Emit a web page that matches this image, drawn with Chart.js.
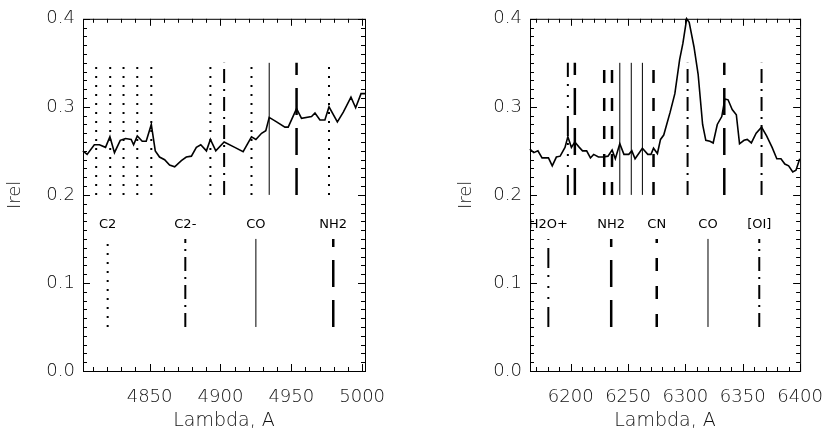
<!DOCTYPE html>
<html>
<head>
<meta charset="utf-8">
<script src="https://cdn.jsdelivr.net/npm/chart.js@4"></script>
<style>
  body { margin: 0; background: #fff; }
  #wrap { position: relative; width: 839px; height: 432px; }
  canvas { position: absolute; top: 0; }
</style>
</head>
<body>
<div id="wrap">
  <canvas id="leftChart" width="420" height="432" style="left:0"></canvas>
  <canvas id="rightChart" width="419" height="432" style="left:420px"></canvas>
</div>
<script>
// spectrum, left panel (4800-5000 A)
const leftWave = [4802.9, 4805.9, 4811, 4814.6, 4818.9, 4822, 4825.2, 4829.3, 4833, 4837, 4838.7, 4841.3, 4844.8, 4847.6, 4851.2, 4854, 4857, 4860.6, 4864.1, 4867.7, 4872.4, 4875.9, 4879.5, 4883, 4886.1, 4890.1, 4892.9, 4896.7, 4902.6, 4910.1, 4916, 4921.9, 4925, 4929, 4932, 4934.4, 4939.6, 4945.5, 4947.8, 4953.7, 4957.2, 4964.3, 4966.7, 4970.2, 4973.7, 4976.6, 4982.5, 4986.7, 4992.1, 4995.4, 4999.2, 5002];
const leftFlux = [0.250, 0.246, 0.257, 0.257, 0.254, 0.266, 0.248, 0.262, 0.264, 0.263, 0.257, 0.267, 0.261, 0.261, 0.280, 0.250, 0.243, 0.240, 0.234, 0.232, 0.239, 0.243, 0.244, 0.254, 0.257, 0.250, 0.263, 0.250, 0.260, 0.254, 0.249, 0.266, 0.263, 0.270, 0.273, 0.288, 0.283, 0.277, 0.277, 0.298, 0.287, 0.289, 0.293, 0.285, 0.285, 0.300, 0.283, 0.294, 0.311, 0.299, 0.315, 0.315];

// spectrum, right panel (6165-6400 A)
const rightWave = [6164.4, 6167.8, 6171.4, 6175, 6180.6, 6183.9, 6187.5, 6190.8, 6195, 6197.5, 6200.6, 6203.6, 6207.5, 6210.3, 6213.9, 6217.2, 6220, 6224.2, 6228.3, 6232.5, 6236.1, 6238.9, 6242.8, 6246.4, 6250.6, 6253.3, 6256.1, 6262.5, 6267.2, 6270, 6272.2, 6275.6, 6278.3, 6281.1, 6286.7, 6290.8, 6295, 6297.8, 6301.1, 6303.3, 6307.5, 6311.1, 6315, 6317.8, 6321.4, 6324.2, 6327.8, 6331.7, 6334.4, 6337.2, 6340.8, 6344.4, 6347.2, 6351.1, 6353.9, 6357.5, 6361.7, 6366.4, 6370.8, 6375.6, 6379.7, 6383.3, 6386.7, 6390, 6393.6, 6396.4, 6399.7];
const rightFlux = [0.252, 0.248, 0.250, 0.242, 0.242, 0.233, 0.243, 0.244, 0.254, 0.266, 0.254, 0.260, 0.254, 0.250, 0.250, 0.242, 0.246, 0.243, 0.243, 0.244, 0.251, 0.241, 0.258, 0.246, 0.246, 0.250, 0.241, 0.253, 0.246, 0.246, 0.253, 0.247, 0.263, 0.268, 0.294, 0.315, 0.354, 0.372, 0.400, 0.396, 0.368, 0.337, 0.280, 0.262, 0.261, 0.259, 0.280, 0.289, 0.309, 0.308, 0.297, 0.291, 0.258, 0.262, 0.263, 0.259, 0.270, 0.277, 0.267, 0.254, 0.241, 0.241, 0.235, 0.233, 0.226, 0.228, 0.241];

// identified lines drawn over the spectrum
const leftLineWave = [4812.3, 4822.2, 4831.6, 4841.3, 4851.2, 4892.9, 4902.6, 4921.9, 4934.4, 4953.7, 4976.6];
const leftLineSpecies = ['C2', 'C2', 'C2', 'C2', 'C2', 'C2', 'C2-', 'C2', 'CO', 'NH2', 'C2'];
const rightLineWave = [6197.5, 6203.6, 6229.2, 6236, 6242.8, 6252.8, 6262.5, 6272.2, 6301.9, 6333.9, 6366.4];
const rightLineSpecies = ['H2O+', 'NH2', 'CN', 'CN', 'CO', 'CO', 'CO', 'CN', '[OI]', 'NH2', '[OI]'];

// key of line styles in the lower part of each panel
const leftKeyNames = ['C2', 'C2-', 'CO', 'NH2'];
const leftKeyWave = [4820.4, 4875.2, 4925, 4979.6];
const rightKeyNames = ['H2O+', 'NH2', 'CN', 'CO', '[OI]'];
const rightKeyWave = [6180.5, 6235.3, 6275, 6319.7, 6364.4];

const leftTicks = [4850, 4900, 4950, 5000];
const rightTicks = [6200, 6250, 6300, 6350, 6400];
const yTicks = [0.0, 0.1, 0.2, 0.3, 0.4];

const lineSpan = [0.2, 0.35];
const keySpan = [0.05, 0.15];
const keyLabelLevel = 0.166;

const FONT = "'DejaVu Sans', sans-serif";
const TEXTO = '#111';

const estilos = {
    'C2':   { dash: [2, 7], width: 2 },
    'C2-':  { dash: [14, 6, 2, 6], width: 2 },
    'CO':   { dash: [], width: 1 },
    'NH2':  { dash: [27, 13], width: 2.5 },
    'CN':   { dash: [13, 15], width: 2.5 },
    'H2O+': { dash: [20, 8, 2, 9, 2, 9, 2, 7], width: 2 },
    '[OI]': { dash: [14, 6, 2, 6], width: 2 }
};

function lineaVertical(w, especie, span) {
    const st = estilos[especie];
    return {
        data: [{ x: w, y: span[0] }, { x: w, y: span[1] }],
        showLine: true,
        borderColor: '#000',
        borderWidth: st.width,
        borderDash: st.dash,
        pointRadius: 0
    };
}

// box and inward ticks on all four sides, plus key labels
const marcoPlugin = {
    id: 'marco',
    afterDatasetsDraw(chart, args, opts) {
        const { ctx, chartArea: a, scales: { x, y } } = chart;
        ctx.save();
        ctx.strokeStyle = '#000';
        ctx.lineWidth = 1;
        ctx.strokeRect(a.left + 0.5, a.top + 0.5, a.right - a.left, a.bottom - a.top);
        ctx.beginPath();
        for (let v = Math.ceil(x.min / 10) * 10; v <= x.max; v += 10) {
            const px = Math.round(x.getPixelForValue(v)) + 0.5;
            const len = v % 50 === 0 ? 7 : 4;
            ctx.moveTo(px, a.bottom); ctx.lineTo(px, a.bottom - len);
            ctx.moveTo(px, a.top); ctx.lineTo(px, a.top + len);
        }
        for (let i = 0; i <= 40; i++) {
            const py = Math.round(y.getPixelForValue(i / 100)) + 0.5;
            const len = i % 10 === 0 ? 7 : 4;
            ctx.moveTo(a.left, py); ctx.lineTo(a.left + len, py);
            ctx.moveTo(a.right, py); ctx.lineTo(a.right - len, py);
        }
        ctx.stroke();

        ctx.fillStyle = '#000';
        ctx.font = '13px ' + FONT;
        ctx.textAlign = 'center';
        ctx.textBaseline = 'middle';
        opts.names.forEach((n, i) => {
            ctx.fillText(n, x.getPixelForValue(opts.waves[i]), y.getPixelForValue(keyLabelLevel));
        });
        ctx.restore();
    }
};

function crearPanel(id, wave, flux, lineWave, lineSpecies, keyNames, keyWave, ticks, xmin, xmax, yWidth, padRight, titlePad) {
    const datasets = [{
        data: wave.map((w, i) => ({ x: w, y: flux[i] })),
        showLine: true,
        borderColor: '#000',
        borderWidth: 1.6,
        pointRadius: 0,
        clip: 3
    }];
    lineWave.forEach((w, i) => datasets.push(lineaVertical(w, lineSpecies[i], lineSpan)));
    keyWave.forEach((w, i) => datasets.push(lineaVertical(w, keyNames[i], keySpan)));

    return new Chart(document.getElementById(id), {
        type: 'scatter',
        data: { datasets },
        options: {
            responsive: false,
            animation: false,
            layout: { padding: { left: 0, right: padRight, top: 13, bottom: 0 } },
            plugins: {
                legend: { display: false },
                tooltip: { enabled: false },
                marco: { names: keyNames, waves: keyWave }
            },
            scales: {
                x: {
                    type: 'linear',
                    min: xmin,
                    max: xmax,
                    grid: { display: false, drawTicks: false },
                    border: { display: false },
                    afterBuildTicks: s => { s.ticks = ticks.map(v => ({ value: v })); },
                    afterFit: s => { s.height = 61; },
                    ticks: {
                        font: { family: FONT, size: 18, weight: 300 },
                        color: TEXTO,
                        padding: 16,
                        maxRotation: 0,
                        callback: v => String(v)
                    },
                    title: {
                        display: true,
                        text: 'Lambda, A',
                        font: { family: FONT, size: 19, weight: 300 },
                        color: TEXTO,
                        padding: { top: 0, bottom: 0 }
                    }
                },
                y: {
                    type: 'linear',
                    min: 0,
                    max: 0.4,
                    grid: { display: false, drawTicks: false },
                    border: { display: false },
                    afterBuildTicks: s => { s.ticks = yTicks.map(v => ({ value: v })); },
                    afterFit: s => { s.width = yWidth; },
                    ticks: {
                        font: { family: FONT, size: 18, weight: 300 },
                        color: TEXTO,
                        padding: 8,
                        callback: v => Number(v).toFixed(1)
                    },
                    title: {
                        display: true,
                        text: 'Irel',
                        font: { family: FONT, size: 18, weight: 300 },
                        color: TEXTO,
                        padding: { top: titlePad, bottom: 0 }
                    }
                }
            }
        },
        plugins: [marcoPlugin]
    });
}

crearPanel('leftChart', leftWave, leftFlux, leftLineWave, leftLineSpecies, leftKeyNames, leftKeyWave, leftTicks, 4803, 5002, 83, 55, 5);
crearPanel('rightChart', rightWave, rightFlux, rightLineWave, rightLineSpecies, rightKeyNames, rightKeyWave, rightTicks, 6164.5, 6400, 110, 27, 36);
</script>
</body>
</html>
